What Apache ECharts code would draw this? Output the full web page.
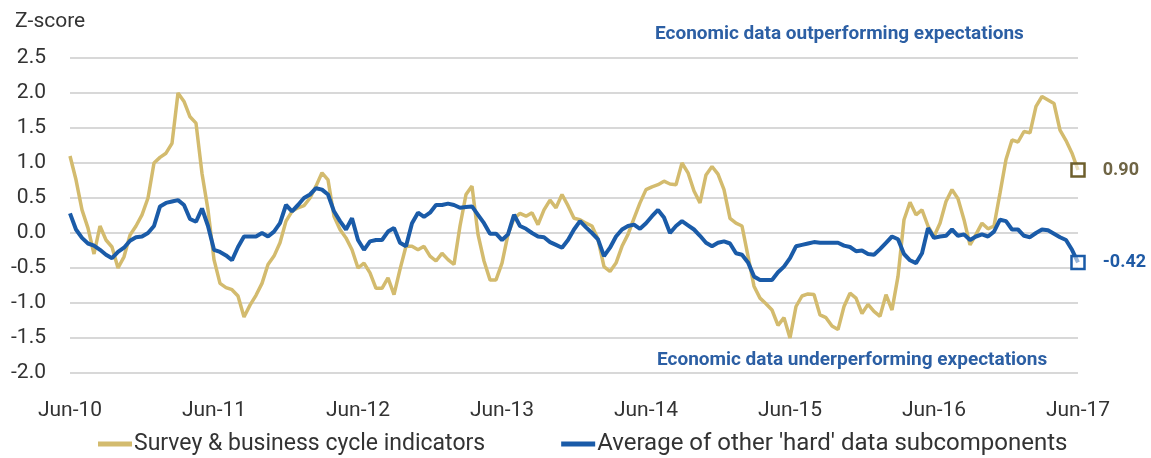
<!DOCTYPE html>
<html><head><meta charset="utf-8">
<script src="https://cdn.jsdelivr.net/npm/echarts@6/dist/echarts.min.js"></script>
<style>html,body{margin:0;padding:0;background:#fff}#c{width:1151px;height:458px}</style>
</head><body><div id="c"></div>
<script>
// Tick labels on the x axis (one per June)
const TICK_LABELS = ['Jun-10','Jun-11','Jun-12','Jun-13','Jun-14','Jun-15','Jun-16','Jun-17'];
// Semi-monthly observations from Jun-10 to Jun-17 (169 points)
const POINTS_PER_YEAR = 24;
const MONTHS = ['Jan','Feb','Mar','Apr','May','Jun','Jul','Aug','Sep','Oct','Nov','Dec'];
const CATEGORIES = [];
for (let i = 0; i <= 7 * POINTS_PER_YEAR; i++) {
  const m = 5 + Math.floor(i / 2);
  const yy = 10 + Math.floor(m / 12);
  CATEGORIES.push(MONTHS[m % 12] + '-' + yy + (i % 2 ? ' (mid)' : ''));
}
const SERIES_NAMES = ['Survey & business cycle indicators', "Average of other 'hard' data subcomponents"];
// Survey & business cycle indicators (z-score)
const GOLD = [
 1.1,0.76,0.33,0.07,-0.3,0.1,-0.1,-0.2,-0.5,-0.34,-0.03,0.1,0.26,0.5,1.0,1.08,1.14,1.28,2.0,1.88,
 1.66,1.57,0.85,0.33,-0.38,-0.72,-0.78,-0.81,-0.9,-1.2,-1.03,-0.89,-0.72,-0.45,-0.33,-0.14,0.17,0.31,0.36,0.39,
 0.5,0.67,0.86,0.76,0.24,0.05,-0.07,-0.24,-0.5,-0.43,-0.57,-0.79,-0.79,-0.64,-0.88,-0.52,-0.19,-0.19,-0.24,-0.19,
 -0.33,-0.4,-0.29,-0.38,-0.45,0.1,0.55,0.67,-0.02,-0.4,-0.67,-0.67,-0.43,-0.02,0.21,0.28,0.24,0.29,0.12,0.33,
 0.47,0.36,0.55,0.39,0.21,0.19,0.14,0.1,-0.09,-0.48,-0.55,-0.43,-0.19,-0.02,0.21,0.43,0.62,0.66,0.69,0.74,
 0.7,0.69,1.0,0.86,0.6,0.43,0.83,0.95,0.84,0.62,0.21,0.14,0.1,-0.33,-0.76,-0.93,-1.01,-1.1,-1.32,-1.21,
 -1.5,-1.05,-0.9,-0.87,-0.88,-1.17,-1.21,-1.33,-1.38,-1.05,-0.86,-0.93,-1.15,-1.02,-1.12,-1.19,-0.88,-1.1,-0.62,0.19,
 0.44,0.26,0.33,0.1,-0.05,0.14,0.45,0.62,0.49,0.19,-0.17,-0.02,0.14,0.06,0.1,0.57,1.05,1.33,1.3,1.45,
 1.43,1.81,1.95,1.9,1.85,1.47,1.32,1.14,0.9
];
// Average of other 'hard' data subcomponents (z-score)
const BLUE = [
 0.28,0.05,-0.07,-0.15,-0.18,-0.24,-0.31,-0.36,-0.27,-0.21,-0.11,-0.06,-0.05,0.0,0.1,0.38,0.43,0.45,0.47,0.4,
 0.2,0.16,0.35,0.1,-0.24,-0.27,-0.32,-0.39,-0.2,-0.05,-0.05,-0.05,0.0,-0.05,0.02,0.14,0.4,0.31,0.4,0.5,
 0.55,0.64,0.62,0.55,0.31,0.17,0.05,0.21,-0.1,-0.24,-0.12,-0.1,-0.1,0.02,0.07,-0.14,-0.19,0.14,0.29,0.23,
 0.29,0.4,0.4,0.42,0.4,0.36,0.37,0.38,0.26,0.14,-0.01,-0.01,-0.1,-0.02,0.26,0.1,0.06,0.0,-0.05,-0.06,
 -0.13,-0.17,-0.21,-0.1,0.05,0.17,0.08,0.0,-0.09,-0.33,-0.21,-0.05,0.05,0.1,0.12,0.06,0.14,0.24,0.33,0.22,
 0.0,0.1,0.17,0.11,0.05,-0.04,-0.14,-0.19,-0.14,-0.12,-0.15,-0.29,-0.31,-0.42,-0.62,-0.67,-0.67,-0.67,-0.56,-0.48,
 -0.36,-0.19,-0.17,-0.15,-0.13,-0.14,-0.14,-0.14,-0.14,-0.18,-0.2,-0.26,-0.25,-0.3,-0.31,-0.23,-0.14,-0.05,-0.09,-0.3,
 -0.39,-0.43,-0.29,0.07,-0.07,-0.05,-0.04,0.05,-0.04,-0.02,-0.1,-0.05,-0.02,-0.05,0.02,0.19,0.17,0.05,0.05,-0.04,
 -0.06,0.0,0.05,0.04,-0.01,-0.06,-0.1,-0.24,-0.42
];
const END_LABELS = ['0.90', '-0.42'];
const ANNOTATIONS = ['Economic data outperforming expectations', 'Economic data underperforming expectations'];

const GOLD_C = '#D3BB6E', BLUE_C = '#1A5BA8';
const chart = echarts.init(document.getElementById('c'), null, {renderer: 'canvas'});
const last = CATEGORIES.length - 1;
function endMark(vals, border, fill, labelText, labelColor) {
  return {
    symbol: 'rect', symbolSize: 13, silent: true,
    itemStyle: {color: fill, borderColor: border, borderWidth: 2.5},
    label: {show: true, position: 'right', distance: 17, formatter: labelText,
            color: labelColor, fontWeight: 'bold', fontSize: 18, fontFamily: 'Roboto'},
    data: [{coord: [CATEGORIES[last], vals[last]]}]
  };
}
chart.setOption({
  animation: false,
  title: {text: 'Z-score', left: 10, top: 6,
          textStyle: {fontSize: 21, fontWeight: 'normal', color: '#333', fontFamily: 'Roboto'}},
  grid: {left: 70, right: 73, top: 58, bottom: 85, containLabel: false},
  legend: {
    left: 93, top: 427, icon: 'rect', itemWidth: 34, itemHeight: 5, itemGap: 76,
    textStyle: {fontSize: 23, color: '#333', fontFamily: 'Roboto', padding: [0, 0, 0, -3]},
    data: [
      {name: SERIES_NAMES[0]},
      {name: SERIES_NAMES[1], textStyle: {fontSize: 24}}
    ]
  },
  xAxis: {
    type: 'category', boundaryGap: false, data: CATEGORIES,
    axisLine: {show: false}, axisTick: {show: false}, splitLine: {show: false},
    axisLabel: {
      interval: (idx) => idx % POINTS_PER_YEAR === 0,
      formatter: (v, idx) => TICK_LABELS[idx / POINTS_PER_YEAR],
      fontSize: 21, color: '#333', margin: 27, fontFamily: 'Roboto'
    }
  },
  yAxis: {
    type: 'value', min: -2, max: 2.5, interval: 0.5,
    axisLine: {show: false}, axisTick: {show: false},
    splitLine: {lineStyle: {color: '#cbcbcb', width: 1.5}},
    axisLabel: {formatter: (v) => v.toFixed(1), fontSize: 21, color: '#333', margin: 24, fontFamily: 'Roboto'}
  },
  graphic: [
    {type: 'text', left: 655, top: 25, silent: true,
     style: {text: ANNOTATIONS[0], fill: '#2C5FA4', fontSize: 19, fontWeight: 'bold', fontFamily: 'Roboto'}},
    {type: 'text', left: 657, top: 351, silent: true,
     style: {text: ANNOTATIONS[1], fill: '#2C5FA4', fontSize: 19, fontWeight: 'bold', fontFamily: 'Roboto'}}
  ],
  series: [
    {name: SERIES_NAMES[0], type: 'line', data: GOLD, symbol: 'none', z: 2,
     itemStyle: {color: GOLD_C}, lineStyle: {color: GOLD_C, width: 3.5},
     markPoint: endMark(GOLD, '#6E5F2C', 'rgba(255,255,255,0.55)', END_LABELS[0], '#6F6545')},
    {name: SERIES_NAMES[1], type: 'line', data: BLUE, symbol: 'none', z: 3,
     itemStyle: {color: BLUE_C}, lineStyle: {color: BLUE_C, width: 4},
     markPoint: endMark(BLUE, BLUE_C, 'rgba(255,255,255,0.55)', END_LABELS[1], '#1F5AA5')}
  ]
});
</script></body></html>
